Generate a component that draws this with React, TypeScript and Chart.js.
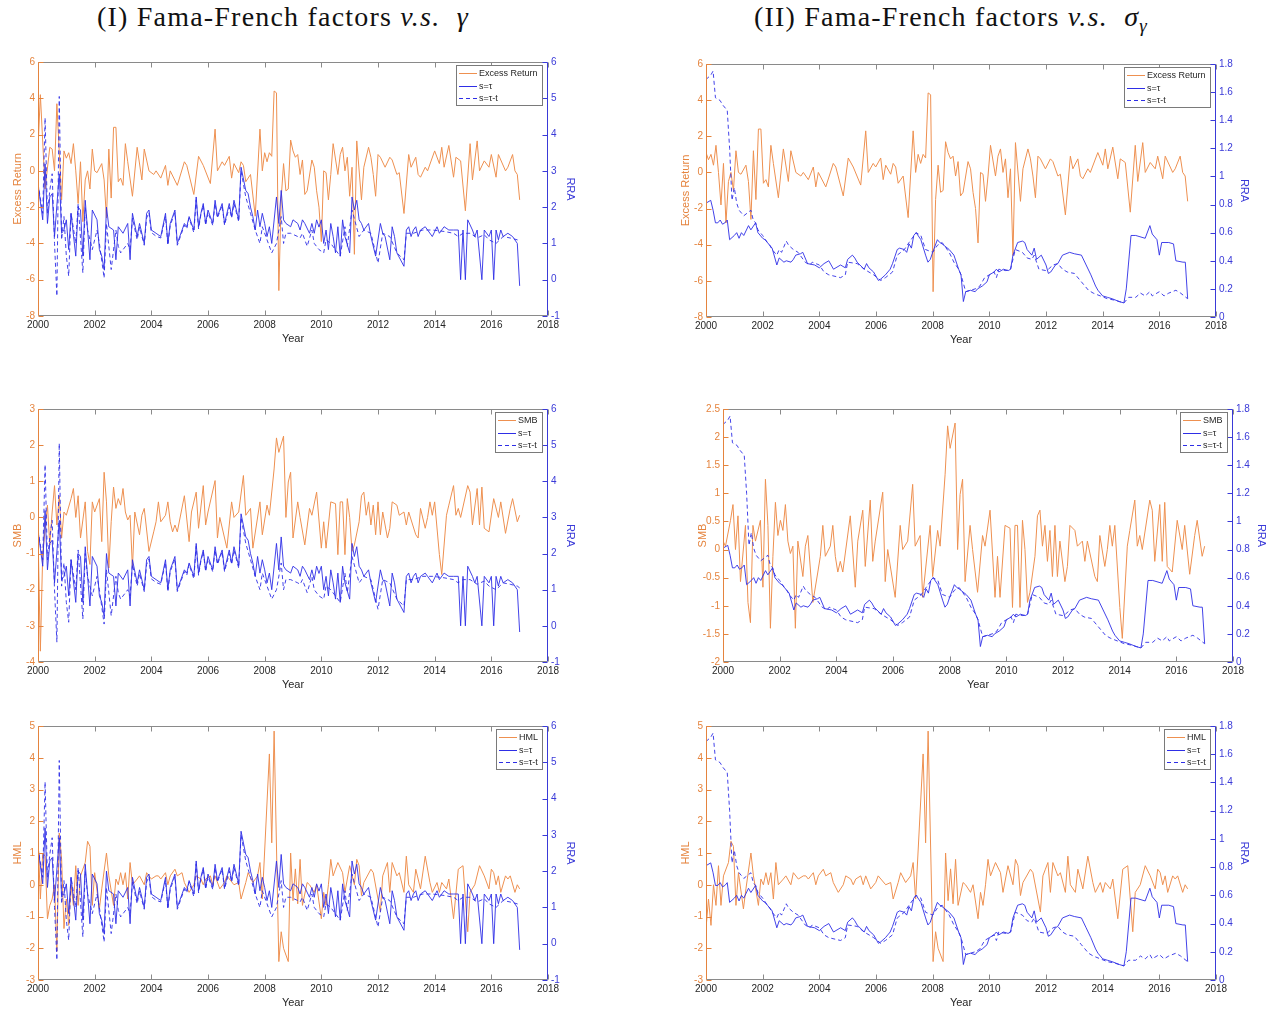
import React, { useEffect, useRef } from 'react';
import { Chart, registerables } from 'chart.js';
Chart.register(...registerables);

type Pt = [number, number]; // [month index since Jan 2000, value]

// ---------- factor series (left axis) ----------
const excessReturn: Pt[] = [[0,1.2],[1,4.2],[3,-1.0],[5,1.3],[6,1.2],[7,0.0],[8,3.7],[10,-1.6],[11,1.1],[12,0.7],[13,1.0],[14,0.4],[15,1.5],[16,0.0],[17,-1.8],[18,0.5],[19,-2.8],[20,-0.5],[21,0.0],[22,-1.0],[23,1.2],[24,0.0],[25,-0.1],[27,0.4],[28,-0.5],[29,-2.6],[30,1.2],[31,-1.5],[32,2.4],[33,2.4],[34,-0.6],[35,-0.4],[36,-0.8],[37,1.5],[38,0.5],[40,-1.4],[42,1.3],[44,-0.5],[45,1.2],[47,0.0],[49,-0.2],[50,0.0],[52,-0.4],[54,0.3],[55,-0.8],[56,0.0],[59,-0.8],[62,0.5],[63,0.3],[66,-1.3],[68,0.8],[70,0.3],[73,-0.7],[75,2.3],[76,0.0],[78,0.5],[79,0.3],[81,0.8],[82,-0.4],[83,0.4],[85,-0.1],[86,0.5],[87,0.3],[88,-0.6],[90,-0.2],[92,-2.5],[94,2.3],[95,0.0],[96,1.0],[97,0.5],[98,1.0],[99,0.8],[100,4.4],[101,4.3],[102,-6.6],[103,-1.5],[104,0.4],[105,-1.1],[106,-1.0],[107,1.7],[108,1.1],[109,0.75],[110,0.9],[111,-0.2],[112,0.6],[113,-1.3],[114,-1.1],[116,0.6],[117,0.2],[118,-1.1],[119,-2.0],[120,-3.9],[121,0.0],[122,-0.1],[123,-1.6],[124,-0.2],[125,1.5],[127,-0.2],[128,0.9],[129,1.3],[130,0.0],[131,0.75],[132,-1.4],[133,0.2],[134,-4.6],[135,1.65],[137,-1.6],[138,0.2],[140,1.3],[141,0.75],[142,-0.2],[143,-1.4],[144,0.9],[145,0.75],[147,0.2],[149,0.75],[150,0.6],[152,-0.2],[153,-0.1],[155,-2.35],[157,0.9],[158,0.2],[160,0.75],[161,-0.2],[162,-0.35],[164,0.2],[165,0.0],[168,1.1],[170,0.4],[171,1.3],[172,0.2],[174,1.4],[176,-0.35],[177,0.75],[179,0.55],[181,-2.2],[183,1.5],[184,-0.5],[186,1.65],[187,0.0],[189,0.55],[191,0.2],[192,0.9],[194,-0.35],[195,0.9],[198,0.0],[199,0.2],[201,0.9],[202,0.0],[203,-0.2],[204,-1.6]];

const smb: Pt[] = [[0,-0.4],[1,-3.7],[2,-1.0],[4,0.34],[5,-0.76],[6,0.15],[7,0.88],[8,-0.21],[9,0.6],[10,-0.57],[11,0.15],[12,0.06],[14,0.52],[15,0.8],[16,0.0],[17,0.6],[18,-0.57],[20,0.43],[21,-0.94],[22,-1.3],[23,0.43],[24,0.15],[26,0.52],[27,-0.67],[28,1.25],[29,0.43],[30,-1.4],[31,-0.12],[32,0.84],[33,0.25],[34,0.52],[35,0.34],[36,0.8],[37,0.15],[38,-0.07],[39,0.06],[40,-1.4],[41,0.15],[43,-0.48],[44,0.06],[45,0.25],[47,-0.94],[49,-0.4],[50,-0.12],[51,0.43],[52,-0.12],[54,0.06],[55,0.43],[56,-0.12],[57,-0.4],[58,-0.21],[59,-0.4],[62,0.6],[64,-0.67],[65,0.15],[67,0.7],[68,-0.3],[70,0.88],[71,-0.21],[72,0.15],[75,1.02],[76,-0.57],[77,0.0],[80,-0.85],[82,0.43],[83,0.0],[85,0.15],[87,1.16],[88,0.06],[90,0.25],[91,-0.85],[94,0.43],[95,-0.48],[97,0.34],[98,0.06],[100,1.34],[101,2.2],[102,1.8],[104,2.25],[105,0.0],[106,0.98],[107,1.25],[108,-0.57],[110,0.43],[111,0.0],[113,-0.76],[115,0.25],[116,0.06],[118,0.7],[120,-0.85],[121,-0.12],[122,-0.85],[124,0.43],[126,0.38],[127,-1.03],[128,0.43],[129,0.43],[130,-1.03],[131,0.52],[132,0.0],[133,-0.94],[134,-0.76],[136,-0.12],[137,0.6],[138,0.7],[139,0.06],[140,0.43],[141,-0.21],[142,0.34],[143,-0.48],[144,0.43],[145,-0.48],[146,0.15],[148,-0.57],[149,-0.3],[150,0.43],[152,0.34],[153,0.06],[155,0.15],[156,-0.21],[157,0.15],[160,-0.48],[161,-0.57],[162,0.25],[164,-0.3],[165,0.0],[166,0.43],[167,0.06],[168,0.43],[170,-1.03],[171,-1.58],[173,0.06],[174,0.34],[176,0.88],[177,0.06],[178,0.25],[179,0.0],[182,0.88],[183,0.7],[184,-0.21],[186,0.8],[187,-0.21],[188,0.84],[189,-0.3],[191,-0.4],[193,0.52],[195,0.0],[196,0.43],[198,-0.44],[200,0.25],[201,0.52],[203,-0.12],[204,0.06]];

const hml: Pt[] = [[0,1.52],[1,-0.45],[2,1.0],[3,0.9],[4,-1.07],[5,-0.65],[6,-0.45],[7,0.0],[8,-2.1],[9,1.63],[10,0.8],[11,-1.38],[12,-0.45],[13,-1.28],[14,0.0],[15,-0.65],[16,0.6],[17,-0.65],[18,0.28],[20,0.7],[21,1.37],[22,1.21],[23,-0.65],[24,0.38],[26,-0.76],[27,-0.13],[29,1.0],[30,0.28],[32,-0.65],[33,0.18],[34,0.0],[35,0.38],[36,0.0],[37,0.38],[38,-0.45],[39,0.7],[40,0.0],[42,0.18],[43,0.28],[45,0.0],[46,0.38],[48,0.18],[50,0.28],[51,0.28],[52,0.18],[54,0.38],[55,0.0],[56,0.28],[58,0.49],[59,0.28],[61,0.38],[62,0.07],[64,-0.24],[66,0.0],[67,0.28],[69,0.18],[70,0.0],[71,0.18],[73,0.28],[74,0.0],[75,0.28],[77,-0.13],[79,0.07],[80,0.28],[83,0.0],[85,0.07],[86,-0.45],[88,0.07],[89,0.38],[91,0.07],[93,0.28],[94,0.7],[95,-0.45],[98,4.12],[99,1.32],[100,4.84],[102,-2.42],[103,-1.48],[104,-2.0],[106,-2.42],[107,1.0],[108,-0.5],[109,0.5],[110,-0.6],[111,0.8],[112,-0.65],[114,0.07],[115,0.0],[117,-0.24],[118,0.0],[120,-1.07],[121,-0.24],[122,-0.65],[123,0.0],[124,0.8],[125,0.28],[126,0.49],[127,0.7],[129,0.38],[130,-0.24],[132,0.6],[134,0.0],[135,0.8],[136,0.6],[137,-0.34],[138,0.07],[141,0.49],[142,0.38],[145,-0.86],[146,0.28],[147,0.49],[148,0.7],[149,-0.24],[150,0.7],[152,0.28],[153,0.38],[155,-0.24],[156,0.9],[157,0.0],[159,-0.24],[160,0.49],[162,-0.13],[164,0.9],[166,0.07],[167,-0.24],[169,0.07],[170,-0.24],[171,0.07],[173,-0.13],[174,0.18],[176,-1.07],[178,0.49],[180,0.6],[182,-1.48],[183,-0.24],[185,0.0],[187,0.6],[189,0.28],[191,-0.13],[192,0.49],[193,0.38],[194,0.0],[195,0.28],[196,-0.24],[198,0.28],[199,0.18],[200,0.28],[202,-0.24],[203,0.0],[204,-0.13]];

// ---------- RRA gamma (panels I, right axis) ----------
const gammaTau: Pt[] = [[0,2.65],[2,1.65],[3,3.19],[4,1.55],[5,2.28],[6,2.37],[7,1.19],[9,2.92],[10,1.28],[11,1.37],[12,1.65],[13,0.83],[14,1.83],[16,0.65],[17,2.0],[18,1.92],[19,0.65],[20,2.19],[21,1.37],[22,0.55],[23,1.92],[25,1.65],[26,0.83],[27,0.65],[28,0.28],[29,2.0],[30,1.46],[32,1.37],[33,0.55],[34,1.46],[36,1.28],[38,1.55],[39,0.55],[40,1.83],[42,1.19],[43,1.55],[45,1.0],[46,1.83],[47,1.92],[48,1.37],[50,1.28],[52,1.19],[54,1.83],[55,1.0],[56,1.55],[58,1.92],[59,1.0],[62,1.55],[63,1.46],[64,1.74],[66,1.37],[67,2.28],[68,1.46],[69,1.83],[70,2.1],[71,1.55],[72,1.92],[74,1.55],[75,2.19],[76,1.74],[78,2.1],[79,1.55],[81,2.1],[82,1.74],[83,2.19],[84,1.92],[85,1.65],[86,3.1],[88,2.46],[89,2.37],[90,2.0],[91,1.74],[92,1.37],[93,1.92],[94,1.46],[95,1.83],[96,1.55],[97,1.19],[98,1.46],[99,1.0],[101,2.28],[102,1.55],[103,2.46],[104,1.65],[105,1.55],[107,1.46],[108,1.65],[110,1.55],[111,1.37],[112,1.65],[113,1.55],[115,1.28],[116,1.55],[117,1.28],[118,1.65],[119,1.45],[120,1.65],[121,1.0],[122,1.37],[123,0.83],[124,1.55],[125,1.19],[126,0.74],[127,1.46],[128,0.65],[129,1.65],[130,1.19],[132,0.74],[133,2.28],[134,1.92],[135,2.19],[136,1.65],[137,1.55],[138,1.37],[140,1.55],[141,1.19],[143,0.65],[145,1.55],[146,1.28],[147,1.19],[149,0.55],[150,1.46],[151,1.19],[152,0.74],[155,0.37],[156,1.37],[157,1.46],[158,1.19],[159,1.37],[160,1.46],[161,1.19],[162,1.37],[164,1.46],[165,1.37],[167,1.19],[169,1.46],[170,1.28],[172,1.46],[174,1.37],[176,1.37],[178,1.37],[179,0.0],[180,1.37],[181,0.0],[182,1.65],[184,1.37],[185,1.19],[186,1.37],[188,0.0],[189,1.37],[191,1.19],[192,1.37],[193,0.0],[194,1.37],[195,1.1],[196,1.37],[197,1.19],[199,1.28],[201,1.19],[203,1.0],[204,-0.17]];

const gammaTauT: Pt[] = [[0,2.65],[2,1.83],[3,4.46],[4,1.83],[5,2.46],[6,2.92],[7,1.0],[8,-0.45],[9,5.05],[10,1.1],[11,1.74],[12,0.65],[13,0.1],[14,1.83],[16,1.0],[17,2.1],[19,0.19],[20,2.0],[21,1.37],[23,0.83],[25,1.37],[26,1.0],[28,0.05],[29,1.55],[31,0.28],[33,1.37],[34,0.92],[35,0.74],[38,1.0],[39,0.83],[40,1.7],[42,1.1],[43,1.45],[45,0.95],[46,1.7],[47,1.85],[48,1.3],[50,1.2],[52,1.15],[54,1.75],[55,0.95],[56,1.5],[58,1.85],[59,0.95],[62,1.5],[63,1.4],[64,1.7],[66,1.3],[67,2.2],[68,1.4],[69,1.8],[70,2.05],[71,1.5],[72,1.85],[74,1.5],[75,2.1],[76,1.7],[78,2.05],[79,1.5],[81,2.0],[82,1.7],[83,2.1],[84,1.85],[85,1.6],[86,3.0],[88,2.28],[90,1.83],[92,1.37],[94,1.0],[95,1.46],[97,1.1],[99,0.74],[101,1.0],[103,1.74],[104,1.0],[105,1.28],[107,1.28],[110,1.19],[111,1.15],[112,1.28],[114,0.92],[116,1.37],[117,1.0],[119,0.83],[121,0.74],[122,1.1],[124,1.0],[128,0.65],[130,1.46],[131,0.92],[133,1.92],[136,1.19],[138,1.37],[141,1.28],[144,0.46],[146,1.28],[149,1.19],[152,0.74],[155,0.55],[156,1.28],[159,1.28],[163,1.37],[167,1.37],[172,1.33],[176,1.28],[178,1.19],[180,1.28],[183,1.28],[186,1.15],[189,1.24],[191,1.1],[194,1.0],[197,1.19],[200,1.15],[203,1.1],[204,1.05]];

// ---------- RRA sigma_gamma (panels II, right axis) ----------
const sigmaTau: Pt[] = [[0,0.81],[2,0.83],[3,0.76],[4,0.67],[5,0.67],[6,0.69],[7,0.66],[8,0.67],[9,0.69],[10,0.55],[12,0.58],[13,0.6],[14,0.56],[15,0.6],[16,0.58],[18,0.65],[19,0.62],[21,0.67],[22,0.6],[24,0.56],[25,0.55],[26,0.53],[28,0.49],[30,0.37],[31,0.42],[33,0.39],[34,0.4],[36,0.39],[37,0.41],[38,0.44],[40,0.45],[41,0.46],[43,0.38],[46,0.37],[48,0.35],[50,0.38],[52,0.4],[54,0.34],[57,0.37],[59,0.35],[60,0.41],[62,0.44],[63,0.42],[64,0.39],[67,0.34],[68,0.38],[69,0.35],[71,0.32],[73,0.26],[74,0.27],[76,0.3],[77,0.32],[78,0.34],[79,0.38],[81,0.48],[82,0.49],[84,0.48],[85,0.46],[86,0.52],[87,0.49],[88,0.58],[89,0.6],[91,0.55],[93,0.44],[94,0.39],[95,0.41],[96,0.46],[98,0.55],[99,0.53],[100,0.52],[103,0.48],[105,0.44],[107,0.34],[108,0.3],[109,0.11],[110,0.18],[112,0.19],[114,0.18],[115,0.2],[117,0.22],[119,0.25],[120,0.3],[122,0.32],[123,0.34],[124,0.32],[126,0.34],[128,0.33],[129,0.34],[130,0.44],[132,0.53],[134,0.54],[135,0.53],[136,0.48],[138,0.44],[139,0.49],[140,0.41],[142,0.44],[144,0.37],[145,0.31],[146,0.32],[148,0.37],[149,0.38],[151,0.44],[154,0.46],[156,0.45],[159,0.44],[161,0.37],[163,0.3],[165,0.22],[166,0.19],[168,0.15],[170,0.14],[172,0.13],[175,0.11],[177,0.1],[178,0.2],[180,0.58],[182,0.58],[186,0.56],[188,0.65],[189,0.59],[191,0.55],[192,0.44],[193,0.53],[196,0.53],[198,0.52],[199,0.4],[202,0.39],[203,0.39],[204,0.13]];

const sigmaTauT: Pt[] = [[0,1.69],[2,1.72],[3,1.75],[4,1.56],[6,1.54],[7,1.51],[9,1.47],[10,1.2],[11,0.83],[12,0.92],[13,0.81],[14,0.76],[16,0.72],[19,0.76],[20,0.69],[21,0.67],[22,0.62],[24,0.58],[26,0.53],[27,0.51],[28,0.48],[30,0.44],[31,0.48],[32,0.46],[34,0.54],[35,0.51],[37,0.48],[39,0.46],[42,0.39],[44,0.37],[45,0.39],[48,0.37],[50,0.32],[52,0.3],[57,0.28],[59,0.3],[60,0.39],[64,0.38],[67,0.34],[71,0.3],[74,0.26],[76,0.28],[79,0.32],[81,0.44],[84,0.48],[86,0.53],[89,0.6],[91,0.58],[93,0.48],[96,0.46],[98,0.51],[100,0.53],[103,0.46],[105,0.39],[107,0.34],[108,0.3],[110,0.18],[112,0.19],[114,0.2],[116,0.22],[118,0.28],[120,0.3],[122,0.32],[123,0.28],[124,0.34],[127,0.33],[129,0.34],[131,0.48],[134,0.46],[136,0.42],[138,0.41],[139,0.44],[141,0.34],[144,0.33],[145,0.34],[147,0.37],[149,0.38],[151,0.34],[153,0.32],[156,0.31],[159,0.25],[162,0.19],[164,0.17],[167,0.15],[170,0.13],[173,0.12],[175,0.11],[177,0.1],[179,0.14],[182,0.14],[184,0.17],[186,0.15],[188,0.18],[189,0.15],[192,0.18],[194,0.15],[196,0.17],[199,0.19],[201,0.17],[204,0.13]];

// ---------- axes / labels ----------
const xTicks = [2000, 2018, 2];
const leftTitles = ['Excess Return', 'SMB', 'HML'];
const seriesLabels = ['s=τ', 's=τ-t'];
const START_YEAR = 2000;
const SHIFT_MONTH = 11; // first factor month shown in the (II) panels
const END_MONTH = 204;
const END_YEAR = 2017;

const ORANGE_LINE = '#EE9050';
const ORANGE_TEXT = '#E5843E';
const BLUE_LINE = '#2E2EE6';
const BLUE_TEXT = '#3A3AD8';
const AXIS_GRAY = '#8a8a8a';
const TEXT_DARK = '#262626';

const PW = 510;
const PADL = 36;
const PADR = 44;
const PADT = 6;
const PADB = 32;

function toXY(s: Pt[]) {
  return s.map(([m, v]) => ({ x: START_YEAR + m / 12, y: v }));
}
function toXYShifted(s: Pt[]) {
  return s
    .filter(([m]) => m >= SHIFT_MONTH)
    .map(([m, v]) => ({ x: START_YEAR + ((m - SHIFT_MONTH) * (END_YEAR - START_YEAR)) / (END_MONTH - SHIFT_MONTH), y: v }));
}
const fmt = (v: number) => String(Number(v.toFixed(2)));

type Spec = {
  L: number; T: number; H: number;
  factor: Pt[]; title: string; shifted: boolean;
  y: [number, number, number]; r: [number, number, number];
  tau: Pt[]; taut: Pt[]; rightCol: boolean;
};

const specs: Spec[] = [
  { L: 38, T: 59, H: 257, factor: excessReturn, title: leftTitles[0], shifted: false, y: [-8, 6, 2], r: [-1, 6, 1], tau: gammaTau, taut: gammaTauT, rightCol: false },
  { L: 706, T: 61, H: 256, factor: excessReturn, title: leftTitles[0], shifted: true, y: [-8, 6, 2], r: [0, 1.8, 0.2], tau: sigmaTau, taut: sigmaTauT, rightCol: true },
  { L: 38, T: 406, H: 256, factor: smb, title: leftTitles[1], shifted: false, y: [-4, 3, 1], r: [-1, 6, 1], tau: gammaTau, taut: gammaTauT, rightCol: false },
  { L: 723, T: 406, H: 256, factor: smb, title: leftTitles[1], shifted: true, y: [-2, 2.5, 0.5], r: [0, 1.8, 0.2], tau: sigmaTau, taut: sigmaTauT, rightCol: true },
  { L: 38, T: 723, H: 257, factor: hml, title: leftTitles[2], shifted: false, y: [-3, 5, 1], r: [-1, 6, 1], tau: gammaTau, taut: gammaTauT, rightCol: false },
  { L: 706, T: 723, H: 257, factor: hml, title: leftTitles[2], shifted: true, y: [-3, 5, 1], r: [0, 1.8, 0.2], tau: sigmaTau, taut: sigmaTauT, rightCol: true },
];

function ticksOf(min: number, max: number, step: number) {
  const out: number[] = [];
  const n = Math.round((max - min) / step);
  for (let i = 0; i <= n; i++) out.push(min + i * step);
  return out;
}

function framePlugin(spec: Spec) {
  return {
    id: 'frame',
    afterDatasetsDraw(chart: any) {
      const { ctx, chartArea: a, scales } = chart;
      const line = (x1: number, y1: number, x2: number, y2: number) => {
        ctx.beginPath(); ctx.moveTo(x1, y1); ctx.lineTo(x2, y2); ctx.stroke();
      };
      ctx.save();
      ctx.lineWidth = 1;
      const l = Math.round(a.left) + 0.5, r = Math.round(a.right) - 0.5;
      const t = Math.round(a.top) + 0.5, b = Math.round(a.bottom) - 0.5;
      ctx.strokeStyle = AXIS_GRAY;
      line(l, t, r, t);
      line(l, b, r, b);
      for (const v of ticksOf(xTicks[0], xTicks[1], xTicks[2])) {
        const x = Math.round(scales.x.getPixelForValue(v)) + 0.5;
        line(x, b, x, b - 5);
        line(x, t, x, t + 5);
      }
      ctx.strokeStyle = ORANGE_TEXT;
      line(l, t, l, b);
      for (const v of ticksOf(spec.y[0], spec.y[1], spec.y[2])) {
        const y = Math.round(scales.y.getPixelForValue(v)) + 0.5;
        line(l, y, l + 5, y);
      }
      ctx.strokeStyle = BLUE_TEXT;
      line(r, t, r, b);
      for (const v of ticksOf(spec.r[0], spec.r[1], spec.r[2])) {
        const y = Math.round(scales.y1.getPixelForValue(v)) + 0.5;
        line(r, y, r - 5, y);
      }
      // legend
      const labels = [spec.title, seriesLabels[0], seriesLabels[1]];
      ctx.font = '9px "Liberation Sans", Arial, sans-serif';
      let maxW = 0;
      for (const s of labels) maxW = Math.max(maxW, ctx.measureText(s).width);
      const bw = Math.round(24 + maxW + 3);
      const bh = 40;
      const bx = Math.round(a.right) - 6 - bw;
      const by = Math.round(a.top) + 3;
      ctx.fillStyle = '#ffffff';
      ctx.fillRect(bx, by, bw, bh);
      ctx.strokeStyle = '#7a7a7a';
      ctx.strokeRect(bx + 0.5, by + 0.5, bw, bh);
      const rows = [by + 8.5, by + 21.5, by + 33.5];
      const colors = [ORANGE_LINE, BLUE_LINE, BLUE_LINE];
      rows.forEach((yy, i) => {
        ctx.strokeStyle = colors[i];
        ctx.setLineDash(i === 2 ? [4, 3] : []);
        line(bx + 3, yy, bx + 21, yy);
        ctx.setLineDash([]);
        ctx.fillStyle = TEXT_DARK;
        ctx.textBaseline = 'middle';
        ctx.textAlign = 'left';
        ctx.fillText(labels[i], bx + 23, yy);
      });
      ctx.restore();
    },
  };
}

function Panel({ spec }: { spec: Spec }) {
  const ref = useRef<HTMLCanvasElement | null>(null);
  const W = PADL + PW + PADR;
  const H = PADT + spec.H + PADB;
  useEffect(() => {
    const c = ref.current;
    if (!c) return;
    const factorData = spec.shifted ? toXYShifted(spec.factor) : toXY(spec.factor);
    const font = { family: '"Liberation Sans", Arial, sans-serif', size: 10 };
    const chart = new Chart(c, {
      type: 'line',
      data: {
        datasets: [
          { label: spec.title, data: factorData, yAxisID: 'y', borderColor: ORANGE_LINE, borderWidth: 1, pointRadius: 0, order: 5, tension: 0 },
          { label: seriesLabels[0], data: toXY(spec.tau), yAxisID: 'y1', borderColor: BLUE_LINE, borderWidth: 0.9, pointRadius: 0, order: 1, tension: 0 },
          { label: seriesLabels[1], data: toXY(spec.taut), yAxisID: 'y1', borderColor: BLUE_LINE, borderWidth: 0.9, borderDash: [4, 3], pointRadius: 0, order: 2, tension: 0 },
        ],
      },
      options: {
        animation: false,
        responsive: false,
        devicePixelRatio: 1,
        events: [],
        layout: { padding: { top: PADT, left: 0, right: 0, bottom: 0 } },
        plugins: { legend: { display: false }, tooltip: { enabled: false } },
        scales: {
          x: {
            type: 'linear', position: 'bottom', min: xTicks[0], max: xTicks[1],
            grid: { display: false, drawTicks: false }, border: { display: false },
            ticks: { stepSize: xTicks[2], autoSkip: false, maxRotation: 0, padding: 3, color: TEXT_DARK, font, callback: (v: any) => String(v) },
            title: { display: true, text: 'Year', color: TEXT_DARK, font: { ...font, size: 11 }, padding: { top: 0, bottom: 2 } },
            afterFit: (s: any) => { s.height = PADB; },
          },
          y: {
            type: 'linear', position: 'left', min: spec.y[0], max: spec.y[1],
            grid: { display: false, drawTicks: false }, border: { display: false },
            ticks: { stepSize: spec.y[2], autoSkip: false, padding: 3, color: ORANGE_TEXT, font, callback: (v: any) => fmt(v) },
            title: { display: true, text: spec.title, color: ORANGE_TEXT, font: { ...font, size: 11 }, padding: { top: 9, bottom: 0 } },
            afterFit: (s: any) => { s.width = PADL; },
          },
          y1: {
            type: 'linear', position: 'right', min: spec.r[0], max: spec.r[1],
            grid: { display: false, drawTicks: false }, border: { display: false },
            ticks: { stepSize: spec.r[2], autoSkip: false, padding: 3, color: BLUE_TEXT, font, callback: (v: any) => fmt(v) },
            title: { display: true, text: 'RRA', color: BLUE_TEXT, font: { ...font, size: 11 }, padding: { top: spec.rightCol ? 9 : 15, bottom: 0 } },
            afterFit: (s: any) => { s.width = PADR; },
          },
        },
      } as any,
      plugins: [framePlugin(spec)],
    });
    return () => chart.destroy();
  }, [spec]);
  return (
    <canvas
      ref={ref}
      width={W}
      height={H}
      style={{ position: 'absolute', left: spec.L - PADL, top: spec.T - PADT, width: W, height: H }}
    />
  );
}

const titleStyle: React.CSSProperties = {
  position: 'absolute',
  top: 0,
  fontFamily: '"Liberation Serif", "Times New Roman", serif',
  fontSize: 28,
  lineHeight: '33px',
  color: '#111',
  whiteSpace: 'nowrap',
  transform: 'translateX(-50%)',
  letterSpacing: '1.2px',
};

export default function App() {
  return (
    <div style={{ position: 'absolute', left: 0, top: 0, width: 1270, height: 1013, background: '#fff', overflow: 'hidden' }}>
      <div style={{ ...titleStyle, left: 283 }}>
        (I) Fama-French factors <i>v.s.</i>&nbsp; <i>γ</i>
      </div>
      <div style={{ ...titleStyle, left: 951 }}>
        (II) Fama-French factors <i>v.s.</i>&nbsp; <i>σ</i><sub style={{ fontSize: 19, verticalAlign: '-6px' }}><i>γ</i></sub>
      </div>
      {specs.map((s, i) => (
        <Panel key={i} spec={s} />
      ))}
    </div>
  );
}
